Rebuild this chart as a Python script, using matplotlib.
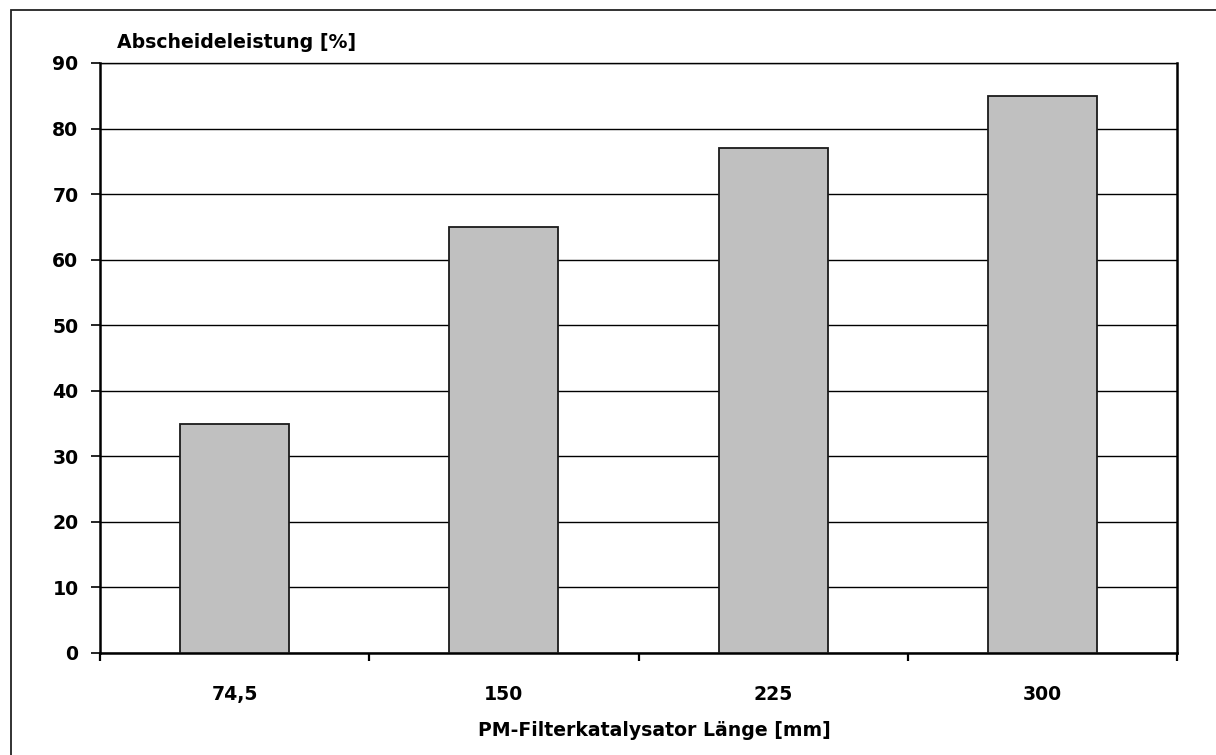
import numpy as np
import matplotlib.pyplot as plt
from matplotlib.patches import Rectangle

plt.rcParams['font.family'] = ['DejaVu Sans']
plt.rcParams['font.weight'] = 'bold'

# DATA
laengen = ['74,5', '150', '225', '300']
abscheidung = [35, 65, 77, 85]
y_ticks = list(range(0, 100, 10))

FS = 13.6

# PLOT
fig = plt.figure(figsize=(12.16, 7.55), dpi=100)
ax = fig.add_axes([100/1216, 1 - 653/755, (1177 - 100)/1216, (653 - 63)/755])

x = np.arange(len(laengen))
ax.bar(x, abscheidung, width=0.405, color='#c0c0c0', edgecolor='#1a1a1a',
       linewidth=1.3, zorder=3)

ax.set_xlim(-0.5, len(laengen) - 0.5)
ax.set_ylim(0, 90)
ax.set_yticks(y_ticks)
ax.set_yticklabels([str(v) for v in y_ticks], fontsize=FS, fontweight='bold')
ax.set_xticks(x)
ax.set_xticklabels(laengen, fontsize=FS, fontweight='bold')
ax.tick_params(axis='x', length=0, pad=23)
ax.set_xticks(np.arange(len(laengen) + 1) - 0.5, minor=True)
ax.tick_params(axis='x', which='minor', length=6, width=1.6, direction='out')
ax.tick_params(axis='y', length=6.5, width=1.2, direction='out', pad=9)
ax.yaxis.grid(True, color='black', linewidth=1.0, zorder=0)
ax.set_axisbelow(True)

for side in ['left', 'bottom', 'right']:
    ax.spines[side].set_linewidth(1.8)
    ax.spines[side].set_color('black')
ax.spines['top'].set_linewidth(1.0)

fig.text(117/1216, 1 - 42/755, 'Abscheideleistung [%]', fontsize=FS,
         fontweight='bold', ha='left', va='center')
fig.text(654/1216, 1 - 731/755, 'PM-Filterkatalysator Länge [mm]', fontsize=FS,
         fontweight='bold', ha='center', va='center')

# frame around the whole chart
fig.patches.append(Rectangle((11/1216, -0.1), 1.2, 1 - 10/755 + 0.1,
                             transform=fig.transFigure, fill=False,
                             edgecolor='#222222', linewidth=1.3))

fig.savefig('out.png', dpi=100)
